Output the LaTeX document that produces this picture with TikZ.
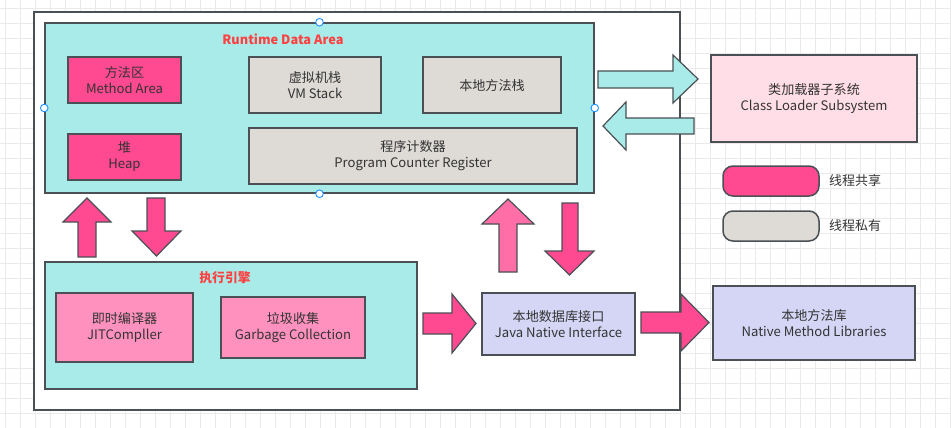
\documentclass[tikz,border=0pt]{standalone}
\usepackage{fontspec}
\setmainfont{Noto Sans CJK SC}
\definecolor{bordc}{RGB}{74,80,84}
\definecolor{cyanf}{RGB}{168,235,232}
\definecolor{hotpink}{RGB}{255,73,145}
\definecolor{midpink}{RGB}{255,110,166}
\definecolor{jitpink}{RGB}{255,145,190}
\definecolor{grayf}{RGB}{222,219,215}
\definecolor{clpink}{RGB}{255,222,232}
\definecolor{lav}{RGB}{213,214,246}
\definecolor{titlered}{RGB}{255,64,64}
\definecolor{txt}{RGB}{51,51,51}
\definecolor{gridc}{RGB}{234,234,234}
\definecolor{handle}{RGB}{30,144,255}
\tikzset{
  box/.style={draw=bordc, line width=1.5pt, rectangle, align=center, text=txt,
    font=\fontsize{13.1}{16}\selectfont, inner sep=0pt},
  titletext/.style={text=titlered, font=\fontsize{12.8}{15}\selectfont\bfseries, inner sep=0pt},
  legtext/.style={text=txt, font=\fontsize{13}{15}\selectfont, inner sep=0pt, anchor=west},
  barrow/.style={draw=bordc, line width=1.2pt, line join=miter},
  gridline/.style={draw=gridc, line width=1pt},
  handlec/.style={draw=handle, fill=white, line width=0.9pt}
}
\begin{document}
\begin{tikzpicture}[x=1pt,y=-1pt]
\useasboundingbox (0,0) rectangle (951,428);
% background grid
\foreach \i in {0,...,63} \draw[gridline] (5.7+15*\i,0) -- (5.7+15*\i,428);
\foreach \j in {0,...,28} \draw[gridline] (0,8.3+15*\j) -- (951,8.3+15*\j);
% outer frame
\node[draw=bordc, line width=1.8pt, fill=white, minimum width=646pt, minimum height=398pt, inner sep=0pt] (frame) at (357,211) {};
% Runtime data area
\node[box, fill=cyanf, minimum width=549pt, minimum height=170pt] (rda) at (319.5,108) {};
\node[titletext] (rdat) at (283,39) {Runtime Data Area};
\node[box, fill=hotpink, minimum width=113pt, minimum height=46pt] (ma) at (124.5,80) {方法区\\Method Area};
\node[box, fill=hotpink, minimum width=113pt, minimum height=46pt] (heap) at (124.5,157) {堆\\Heap};
\node[box, fill=grayf, minimum width=132pt, minimum height=56pt] (vms) at (315,85) {虚拟机栈\\VM Stack};
\node[box, fill=grayf, minimum width=138pt, minimum height=56pt] (nms) at (492,85) {本地方法栈};
\node[box, fill=grayf, minimum width=328pt, minimum height=56pt] (pcr) at (413,156) {程序计数器\\Program Counter Register};
% selection handles
\draw[handlec] (rda.north) circle (3.8);
\draw[handlec] (rda.south) circle (3.8);
\draw[handlec] (rda.west) circle (3.8);
\draw[handlec] (rda.east) circle (3.8);
% class loader
\node[box, fill=clpink, minimum width=206pt, minimum height=87pt] (cl) at (814,98.5) {类加载器子系统\\Class Loader Subsystem};
% legend
\node[box, fill=hotpink, rounded corners=10pt, minimum width=96pt, minimum height=30pt] (lg1) at (771,181) {};
\node[legtext] (lg1t) at (829,181) {线程共享};
\node[box, fill=grayf, rounded corners=10pt, minimum width=96pt, minimum height=30pt] (lg2) at (771,226) {};
\node[legtext] (lg2t) at (829,226) {线程私有};
% execution engine
\node[box, fill=cyanf, minimum width=372pt, minimum height=127pt] (ee) at (231,325.5) {};
\node[titletext] (eet) at (225,278) {执行引擎};
\node[box, fill=jitpink, minimum width=137pt, minimum height=69pt] (jit) at (124.5,327.5) {即时编译器\\JITCompller};
\node[box, fill=jitpink, minimum width=144pt, minimum height=61pt] (gc) at (293,327.5) {垃圾收集\\Garbage Collection};
% JNI and native libs
\node[box, fill=lav, minimum width=153pt, minimum height=62pt] (jni) at (558.5,324) {本地数据库接口\\Java Native Interface};
\node[box, fill=lav, minimum width=202pt, minimum height=74pt] (nml) at (814,323) {本地方法库\\Native Method Libraries};
% block arrows
\draw[barrow, fill=cyanf] (598,71) -- (673,71) -- (673,55) -- (698,79) -- (673,103) -- (673,88) -- (598,88) -- cycle;
\draw[barrow, fill=cyanf] (694,118) -- (626,118) -- (626,102) -- (603,126) -- (626,150) -- (626,134) -- (694,134) -- cycle;
\draw[barrow, fill=hotpink] (78,257) -- (78,222) -- (63,222) -- (87,198) -- (111,222) -- (96,222) -- (96,257) -- cycle;
\draw[barrow, fill=hotpink] (147,198) -- (147,231) -- (132,231) -- (156.5,256) -- (181,231) -- (165,231) -- (165,198) -- cycle;
\draw[barrow, fill=midpink] (499,272) -- (499,224) -- (482,224) -- (508,199) -- (534,224) -- (517,224) -- (517,272) -- cycle;
\draw[barrow, fill=hotpink] (562,203) -- (562,251) -- (545,251) -- (569.5,275) -- (594,251) -- (578,251) -- (578,203) -- cycle;
\draw[barrow, fill=hotpink] (423,313) -- (452,313) -- (452,294) -- (476,323.5) -- (452,353) -- (452,334) -- (423,334) -- cycle;
\draw[barrow, fill=hotpink] (641,312) -- (681,312) -- (681,294) -- (709,322.5) -- (681,351) -- (681,333) -- (641,333) -- cycle;
\end{tikzpicture}
\end{document}
